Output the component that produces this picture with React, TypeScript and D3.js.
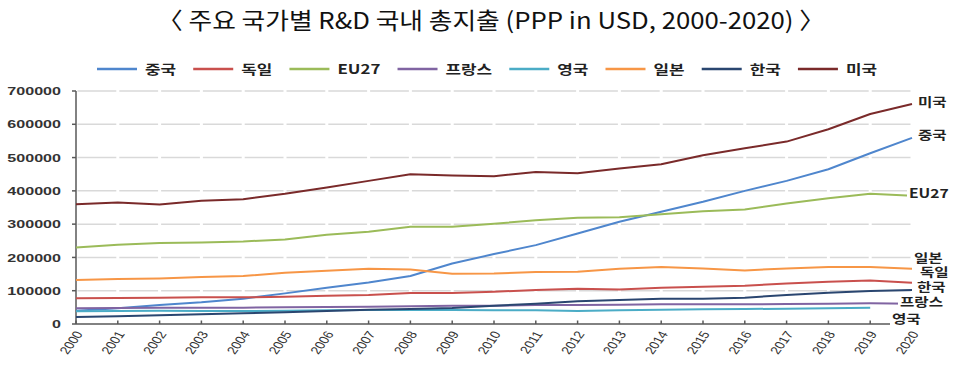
import React, { useEffect, useRef } from 'react';
import * as d3 from 'd3';

const years = ['2000','2001','2002','2003','2004','2005','2006','2007','2008','2009','2010','2011','2012','2013','2014','2015','2016','2017','2018','2019','2020'];

const china = [40000,47000,57000,65000,76000,92000,109000,125000,144000,182000,210000,237000,272000,307000,337000,367000,400000,430000,465000,513000,559000];
const germany = [77000,78000,79000,80000,80000,82000,85000,87000,93000,93000,97000,102000,106000,104000,109000,112000,115000,122000,127000,131000,124000];
const eu27 = [230000,238000,243000,245000,248000,254000,268000,277000,292000,292000,301000,312000,319000,321000,330000,339000,344000,362000,378000,391000,385000];
const france = [47000,48000,49000,49000,49000,50000,51000,52000,53000,55000,55000,57000,57000,58000,59000,59000,59000,60000,61000,62000,61000];
const uk = [38000,39000,40000,39000,39000,40000,41000,42000,42000,42000,41000,41000,39000,41000,43000,44000,45000,46000,47000,49000,null];
const japan = [132000,135000,137000,141000,144000,154000,160000,166000,164000,151000,152000,156000,157000,166000,171000,167000,161000,167000,171000,171000,166000];
const korea = [21000,23000,26000,29000,32000,35000,39000,43000,45000,48000,55000,61000,68000,72000,76000,76000,79000,87000,94000,99000,102000];
const usa = [360000,365000,359000,370000,375000,391000,410000,430000,450000,446000,444000,457000,453000,467000,480000,507000,528000,548000,585000,631000,661000];

const seriesNames = ['중국','독일','EU27','프랑스','영국','일본','한국','미국'];
const seriesValues = [china, germany, eu27, france, uk, japan, korea, usa];
const seriesColors = ['#4F86CD','#C9504D','#9BBB59','#8064A2','#4BACC6','#F79646','#2A4670','#7A2A2A'];

const yTicks = [0,100000,200000,300000,400000,500000,600000,700000];
const titleText = '〈 주요 국가별 R&D 국내 총지출 (PPP in USD, 2000-2020) 〉';

// end-label layout tweaks (px offsets from the last point position)
const endLabelOffsets: Record<string, [number, number]> = {
  '미국': [6, -1],
  '중국': [6, -2],
  'EU27': [-3, -2],
  '일본': [2, -10],
  '독일': [8, -10],
  '한국': [5, -3],
  '프랑스': [-12, -1],
  '영국': [-20, 12],
};

const W = 960, H = 367;
const X0 = 76, X1 = 912, Y0 = 324, Y1 = 91;
const KFONT = "'Noto Sans CJK KR', 'Noto Sans', sans-serif";
const NFONT = "'Liberation Sans', Arial, sans-serif";

export default function App() {
  const ref = useRef<SVGSVGElement>(null);

  useEffect(() => {
    const svg = d3.select(ref.current);
    svg.selectAll('*').remove();

    const x = d3.scalePoint<string>().domain(years).range([X0, X1]);
    const y = d3.scaleLinear().domain([0, 700000]).range([Y0, Y1]);

    svg.append('rect').attr('width', W).attr('height', H).attr('fill', '#fff');

    // title
    svg.append('text')
      .attr('x', 157).attr('y', 29)
      .attr('textLength', 668).attr('lengthAdjust', 'spacingAndGlyphs')
      .attr('font-family', KFONT).attr('font-size', 23).attr('font-weight', 400)
      .attr('fill', '#111')
      .text(titleText);

    // grid segments
    const grid = svg.append('g');
    yTicks.filter(t => t > 0).forEach(t => {
      for (let i = 0; i < years.length - 1; i++) {
        grid.append('line')
          .attr('x1', (x(years[i]) as number) + 1.5)
          .attr('x2', (x(years[i + 1]) as number) - 1.5)
          .attr('y1', y(t)).attr('y2', y(t))
          .attr('stroke', '#d9d9d9').attr('stroke-width', 1.5);
      }
    });

    // axes
    const ax = svg.append('g').attr('stroke', '#595959').attr('stroke-width', 1.5);
    ax.append('line').attr('x1', X0).attr('x2', X0).attr('y1', Y1).attr('y2', Y0);
    ax.append('line').attr('x1', X0).attr('x2', X1).attr('y1', Y0).attr('y2', Y0);
    yTicks.forEach(t => {
      ax.append('line').attr('x1', X0 - 4).attr('x2', X0).attr('y1', y(t)).attr('y2', y(t));
    });
    years.forEach(yr => {
      ax.append('line').attr('x1', x(yr)!).attr('x2', x(yr)!).attr('y1', Y0).attr('y2', Y0 - 3.5);
    });

    // y labels
    yTicks.forEach(t => {
      svg.append('text')
        .attr('transform', `translate(61,${y(t)}) scale(1.4,1)`)
        .attr('text-anchor', 'end').attr('dy', '0.36em')
        .attr('font-family', NFONT).attr('font-size', 11.5).attr('font-weight', 700)
        .attr('fill', '#333')
        .text(String(t));
    });

    // x labels
    years.forEach(yr => {
      svg.append('text')
        .attr('transform', `translate(${(x(yr) as number) + 3},${Y0 + 8}) scale(1.3,1) rotate(-60)`)
        .attr('text-anchor', 'end').attr('dy', '0.35em')
        .attr('font-family', NFONT).attr('font-size', 11).attr('fill', '#333')
        .text(yr);
    });

    // lines
    const line = d3.line<number | null>()
      .defined(d => d != null)
      .x((_, i) => x(years[i]) as number)
      .y(d => y(d as number));

    seriesValues.forEach((vals, k) => {
      svg.append('path')
        .datum(vals)
        .attr('d', line as any)
        .attr('fill', 'none')
        .attr('stroke', seriesColors[k])
        .attr('stroke-width', 2)
        .attr('stroke-linejoin', 'round');
    });

    // end labels
    seriesNames.forEach((name, k) => {
      const vals = seriesValues[k];
      let li = vals.length - 1;
      while (vals[li] == null) li--;
      const px = X1;
      const py = y(vals[li] as number);
      const [dx, dy] = endLabelOffsets[name];
      const g = svg.append('g').attr('transform', `translate(${px + dx},${py + dy})`);
      const rect = g.append('rect').attr('fill', '#fff');
      const txt = g.append('text')
        .attr('transform', 'scale(1.25,1)')
        .attr('dy', '0.36em')
        .attr('font-family', KFONT).attr('font-size', 12.5).attr('font-weight', 700)
        .attr('fill', '#222')
        .text(name);
      const w = (txt.node() as SVGTextElement).getComputedTextLength() * 1.25;
      rect.attr('x', -2).attr('y', -7).attr('width', w + 4).attr('height', 14);
    });

    // legend
    const legend = svg.append('g');
    const LY = 69;
    const items: { w: number; g: any }[] = [];
    seriesNames.forEach((name, k) => {
      const g = legend.append('g');
      g.append('line').attr('x1', 0).attr('x2', 40).attr('y1', 0).attr('y2', 0)
        .attr('stroke', seriesColors[k]).attr('stroke-width', 2.5);
      const t = g.append('text')
        .attr('transform', 'translate(48,0) scale(1.3,1)')
        .attr('dy', '0.36em')
        .attr('font-family', KFONT).attr('font-size', 13).attr('font-weight', 700)
        .attr('fill', '#222')
        .text(name);
      const tw = (t.node() as SVGTextElement).getComputedTextLength() * 1.3;
      items.push({ w: 48 + tw, g });
    });
    const start = 97, end = 877;
    const total = items.reduce((s, it) => s + it.w, 0);
    const gap = (end - start - total) / (items.length - 1);
    let cx = start;
    items.forEach(it => {
      it.g.attr('transform', `translate(${cx},${LY})`);
      cx += it.w + gap;
    });
  }, []);

  return (
    <svg ref={ref} width={W} height={H}
      style={{ position: 'absolute', left: 0, top: 0, display: 'block' }} />
  );
}
